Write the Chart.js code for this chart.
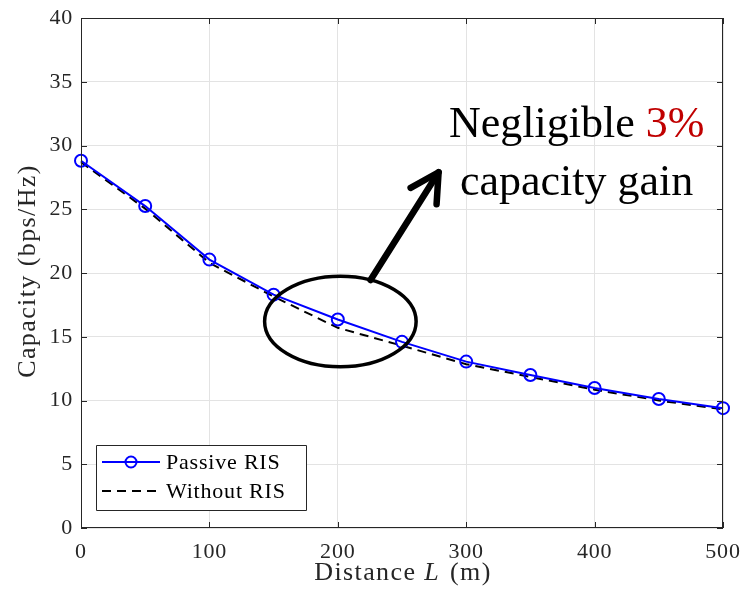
<!DOCTYPE html>
<html>
<head>
<meta charset="utf-8">
<script src="https://cdn.jsdelivr.net/npm/chart.js@4/dist/chart.umd.min.js"></script>
<style>
html,body{margin:0;padding:0;background:#fff;}
#wrap{width:743px;height:595px;}
</style>
</head>
<body>
<div id="wrap"><canvas id="c" width="743" height="595"></canvas></div>
<script>
const distances = [0, 50, 100, 150, 200, 250, 300, 350, 400, 450, 500];
const passiveRIS = [28.8, 25.25, 21.05, 18.3, 16.35, 14.6, 13.05, 12.0, 10.98, 10.12, 9.4];
const withoutRIS = [28.7, 25.05, 20.8, 18.15, 15.7, 14.3, 12.85, 11.85, 10.85, 10.0, 9.3];
const xTicks = [0, 100, 200, 300, 400, 500];
const yTicks = [0, 5, 10, 15, 20, 25, 30, 35, 40];
const seriesLabels = ['Passive RIS', 'Without RIS'];

const SERIF = '"Liberation Serif", "Times New Roman", serif';
const AX = '#262626';

const spacing = {
  id: 'spacing',
  beforeDraw(chart) { chart.ctx.letterSpacing = '0.8px'; }
};

const annot = {
  id: 'annot',
  afterDraw(chart) {
    const ctx = chart.ctx, a = chart.chartArea;
    const xs = chart.scales.x, ys = chart.scales.y;
    ctx.save();
    ctx.letterSpacing = '0px';
    // box
    ctx.strokeStyle = AX; ctx.lineWidth = 1;
    ctx.strokeRect(a.left + 0.5, a.top + 0.5, a.right - a.left - 1, a.bottom - a.top - 1);
    // inward ticks
    ctx.beginPath();
    xTicks.forEach(v => {
      const p = Math.round(xs.getPixelForValue(v)) + 0.5;
      ctx.moveTo(p, a.bottom); ctx.lineTo(p, a.bottom - 6);
      ctx.moveTo(p, a.top); ctx.lineTo(p, a.top + 6);
    });
    yTicks.forEach(v => {
      const p = Math.round(ys.getPixelForValue(v)) + 0.5;
      ctx.moveTo(a.left, p); ctx.lineTo(a.left + 6, p);
      ctx.moveTo(a.right, p); ctx.lineTo(a.right - 6, p);
    });
    ctx.stroke();

    // ellipse
    const cx = xs.getPixelForValue(202), cy = ys.getPixelForValue(16.2);
    const rx = xs.getPixelForValue(202 + 59) - cx, ry = cy - ys.getPixelForValue(16.2 + 3.55);
    ctx.beginPath();
    ctx.ellipse(cx, cy, rx, ry, 0, 0, Math.PI * 2);
    ctx.strokeStyle = '#000'; ctx.lineWidth = 3.5; ctx.stroke();

    // arrow
    const x1 = xs.getPixelForValue(225.5), y1 = ys.getPixelForValue(19.45);
    const x2 = xs.getPixelForValue(278.5), y2 = ys.getPixelForValue(27.9);
    ctx.lineWidth = 6.5; ctx.lineCap = 'round'; ctx.lineJoin = 'round';
    ctx.beginPath(); ctx.moveTo(x1, y1); ctx.lineTo(x2, y2); ctx.stroke();
    const ang = Math.atan2(y2 - y1, x2 - x1);
    const hl = 32, ha = 0.5;
    ctx.beginPath();
    ctx.moveTo(x2 - hl * Math.cos(ang - ha), y2 - hl * Math.sin(ang - ha));
    ctx.lineTo(x2, y2);
    ctx.lineTo(x2 - hl * Math.cos(ang + ha), y2 - hl * Math.sin(ang + ha));
    ctx.stroke();
    ctx.lineCap = 'butt';

    // text
    ctx.font = '44px ' + SERIF;
    ctx.textBaseline = 'alphabetic';
    const tcx = xs.getPixelForValue(386);
    const t1 = 'Negligible ', t2 = '3%';
    const w1 = ctx.measureText(t1).width, w2 = ctx.measureText(t2).width;
    const sx = tcx - (w1 + w2) / 2;
    const b1 = ys.getPixelForValue(30.65);
    ctx.textAlign = 'left';
    ctx.fillStyle = '#000'; ctx.fillText(t1, sx, b1);
    ctx.fillStyle = '#C00000'; ctx.fillText(t2, sx + w1, b1);
    ctx.fillStyle = '#000'; ctx.textAlign = 'center';
    ctx.fillText('capacity gain', tcx, ys.getPixelForValue(26.1));

    // legend
    const lx = a.left + 15, ly = a.bottom - 83, lw = 210, lh = 65;
    ctx.fillStyle = '#fff'; ctx.fillRect(lx, ly, lw, lh);
    ctx.strokeStyle = AX; ctx.lineWidth = 1;
    ctx.strokeRect(lx + 0.5, ly + 0.5, lw, lh);
    const r1 = ly + 17, r2 = ly + 46;
    ctx.strokeStyle = '#0000FF'; ctx.lineWidth = 2;
    ctx.beginPath(); ctx.moveTo(lx + 6, r1); ctx.lineTo(lx + 64, r1); ctx.stroke();
    ctx.beginPath(); ctx.arc(lx + 35, r1, 5.5, 0, Math.PI * 2); ctx.stroke();
    ctx.strokeStyle = '#000'; ctx.setLineDash([9, 6]);
    ctx.beginPath(); ctx.moveTo(lx + 6, r2); ctx.lineTo(lx + 64, r2); ctx.stroke();
    ctx.setLineDash([]);
    ctx.fillStyle = '#000'; ctx.font = '22px ' + SERIF; ctx.textAlign = 'left';
    ctx.textBaseline = 'middle'; ctx.letterSpacing = '0.8px';
    ctx.fillText(seriesLabels[0], lx + 70, r1 + 1);
    ctx.fillText(seriesLabels[1], lx + 70, r2 + 1);

    // axis titles
    ctx.letterSpacing = '1.4px';
    ctx.fillStyle = AX; ctx.textBaseline = 'alphabetic';
    const p1 = 'Distance ', p2 = 'L', p3 = ' (m)';
    const fi = 'italic 26px ' + SERIF, fn = '26px ' + SERIF;
    ctx.font = fn; const wa = ctx.measureText(p1).width, wc = ctx.measureText(p3).width;
    ctx.font = fi; const wb = ctx.measureText(p2).width;
    const tx = (a.left + a.right) / 2 - (wa + wb + wc) / 2, ty = 580;
    ctx.textAlign = 'left';
    ctx.font = fn; ctx.fillText(p1, tx, ty);
    ctx.font = fi; ctx.fillText(p2, tx + wa, ty);
    ctx.font = fn; ctx.fillText(p3, tx + wa + wb + 2, ty);

    ctx.translate(35, 271);
    ctx.rotate(-Math.PI / 2);
    ctx.textAlign = 'center'; ctx.textBaseline = 'alphabetic';
    ctx.font = fn;
    ctx.fillText('Capacity (bps/Hz)', 0, 0);
    ctx.restore();
  }
};

new Chart(document.getElementById('c'), {
  type: 'line',
  data: {
    datasets: [
      {
        label: seriesLabels[0],
        data: distances.map((d, i) => ({ x: d, y: passiveRIS[i] })),
        borderColor: '#0000FF', borderWidth: 2,
        pointStyle: 'circle', pointRadius: 6, pointBorderWidth: 2,
        pointBorderColor: '#0000FF', pointBackgroundColor: 'rgba(0,0,0,0)',
        tension: 0, fill: false, clip: false
      },
      {
        label: seriesLabels[1],
        data: distances.map((d, i) => ({ x: d, y: withoutRIS[i] })),
        borderColor: '#000000', borderWidth: 2, borderDash: [9, 6],
        pointRadius: 0, tension: 0, fill: false, clip: false
      }
    ]
  },
  options: {
    responsive: false, animation: false, devicePixelRatio: 1,
    layout: { padding: { top: 18, right: 20, left: 0, bottom: 0 } },
    plugins: { legend: { display: false }, tooltip: { enabled: false } },
    scales: {
      x: {
        type: 'linear', min: 0, max: 500,
        afterBuildTicks: s => { s.ticks = xTicks.map(v => ({ value: v })); },
        afterFit: s => { s.height = 67; s.paddingLeft = 0; s.paddingRight = 0; },
        grid: { color: '#e3e3e3', drawTicks: false, lineWidth: 1 },
        border: { display: false },
        ticks: { padding: 11, color: AX, font: { family: SERIF, size: 22 }, maxRotation: 0 }
      },
      y: {
        type: 'linear', min: 0, max: 40,
        afterBuildTicks: s => { s.ticks = yTicks.map(v => ({ value: v })); },
        afterFit: s => { s.width = 81; s.paddingTop = 0; s.paddingBottom = 0; },
        grid: { color: '#e3e3e3', drawTicks: false, lineWidth: 1 },
        border: { display: false },
        ticks: { padding: 8, color: AX, font: { family: SERIF, size: 22 } }
      }
    }
  },
  plugins: [spacing, annot]
});
</script>
</body>
</html>
